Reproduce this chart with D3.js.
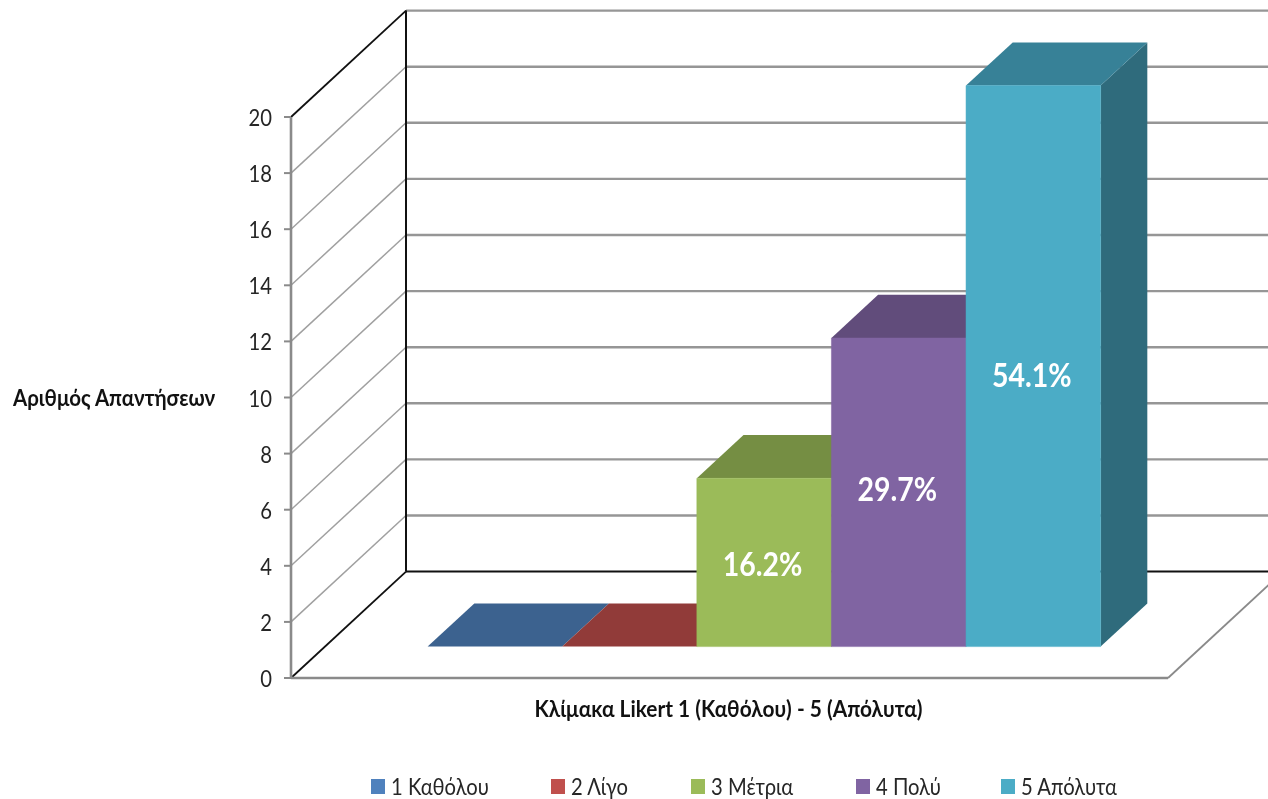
<!DOCTYPE html>
<html><head><meta charset="utf-8">
<script src="https://cdn.jsdelivr.net/npm/d3@7"></script>
<style>
html,body{margin:0;padding:0;background:#fff;overflow:hidden}
text{font-family:Lato,"Open Sans","Noto Sans",sans-serif}
svg{filter:blur(0.45px)}
</style></head><body>
<svg id="c" width="1268" height="799"></svg>
<script>
const categories = ["1 Καθόλου","2 Λίγο","3 Μέτρια","4 Πολύ","5 Απόλυτα"];
const values = [0,0,6,11,20];
const labels = ["","","16.2%","29.7%","54.1%"];
const frontColors = ["#4f81bd","#c0504d","#9bbb59","#8064a2","#4bacc6"];
const topColors = ["#3c628f","#913b39","#758e43","#614c7b","#378197"];
const sideColors = ["#2f4d70","#722f2d","#5c7035","#4c3c61","#2f6b7c"];
const ticks = [0,2,4,6,8,10,12,14,16,18,20];
const yTitle = "Αριθμός Απαντήσεων";
const xTitle = "Κλίμακα Likert 1 (Καθόλου) - 5 (Απόλυτα)";

const svg = d3.select("#c");
const y = d3.scaleLinear().domain([0,20]).range([678,117]);
const dx = d3.scaleLinear().domain([0,1]).range([0,115]);
const dy = d3.scaleLinear().domain([0,1]).range([0,-106.4]);
const x = d3.scaleBand().domain(categories).range([393.7,1066.7]).paddingInner(0).paddingOuter(0);
const X0 = 291, X1 = 1168;
const P = (px,v,d)=>[px+dx(d), y(v)+dy(d)];
const line = d3.line();
const grid = "#969696", axis = "#8a8a8a", dark = "#111";
const seg = (pts,stroke,w)=>svg.append("path").attr("d",line(pts)).attr("fill","none").attr("stroke",stroke).attr("stroke-width",w);
// condensed text: the reference face is narrower than Lato
const label = (px,py,str,size,sx,fill,weight,anchor)=>svg.append("text")
  .attr("transform",`translate(${px},${py}) scale(${sx},1)`)
  .attr("text-anchor",anchor||"start").attr("font-size",size)
  .attr("font-weight",weight||400).attr("fill",fill).text(str);

// walls: gridlines
ticks.filter(t=>t>0).forEach(t=>{
  seg([P(X0,t,1),P(X1+115,t,1)],grid,2.4);
  if(t<20) seg([P(X0,t,0),P(X0,t,1)],"#a0a0a0",1.5);
});
// dark frame
seg([P(X0,20,0),P(X0,20,1)],dark,1.8);
seg([P(X0,20,1),P(X0,0,1)],dark,2);
seg([P(X0,0,1),P(X1+115,0,1)],dark,2);
seg([P(X0,0,0),P(X0,0,1)],dark,1.8);
// front axis and floor edge
seg([P(X0,0,0),P(X0,20,0)],axis,2.6);
seg([P(X0,0,0),P(X1,0,0)],axis,2.6);
seg([P(X1,0,0),P(X1,0,1)],axis,1.8);
ticks.forEach(t=>{
  seg([[X0-7,y(t)],[X0,y(t)]],axis,2);
  label(X0-19,y(t)+9,t,23,0.88,"#262626",400,"end");
});

// bars
const d0=0.295, d1=0.701;
categories.forEach((c,i)=>{
  const v=values[i], a=x(c), b=a+x.bandwidth();
  const poly=(pts,f)=>svg.append("path").attr("d",line(pts)+"Z").attr("fill",f);
  if(v>0) poly([P(b,0,d0),P(b,0,d1),P(b,v,d1),P(b,v,d0)],sideColors[i]);
  poly([P(a,v,d0),P(b,v,d0),P(b,v,d1),P(a,v,d1)],topColors[i]);
});
categories.forEach((c,i)=>{
  const v=values[i], a=x(c), b=a+x.bandwidth();
  if(v>0) svg.append("path").attr("d",line([P(a,0,d0),P(b,0,d0),P(b,v,d0),P(a,v,d0)])+"Z")
    .attr("fill",frontColors[i]).attr("stroke",frontColors[i]).attr("stroke-width",0.5);
});
// data labels were placed by hand in the original: small vertical nudges from each bar's middle
const nudge = {"16.2%":3,"29.7%":-2,"54.1%":10};
categories.forEach((c,i)=>{
  if(!labels[i]) return;
  const [px,py]=P(x(c)+x.bandwidth()/2,values[i]*0.5,d0);
  label(px-1.5,py+11+nudge[labels[i]],labels[i],32,0.89,"#fff",700,"middle");
});

// titles
label(13,406,yTitle,23,0.89,"#111",700);
label(728.5,717,xTitle,23,0.908,"#111",700,"middle");

// legend
const legendX = d3.scaleOrdinal().domain(categories).range([371,551,691,856,1001]);
categories.forEach((c,i)=>{
  svg.append("rect").attr("x",legendX(c)).attr("y",779).attr("width",14).attr("height",15).attr("fill",frontColors[i]);
  label(legendX(c)+20,795,c,23,0.88,"#262626");
});
</script></body></html>
